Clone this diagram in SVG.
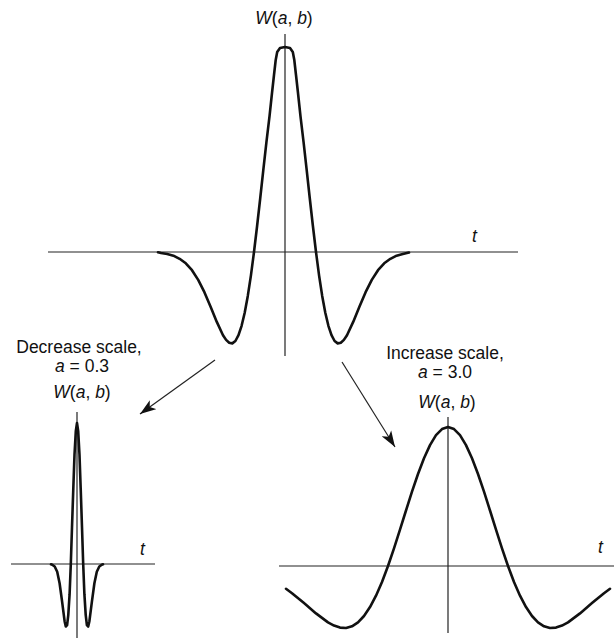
<svg xmlns="http://www.w3.org/2000/svg" width="616" height="638" viewBox="0 0 616 638">
<style>
.axis{stroke:#222;stroke-width:1.2;fill:none}
.curve{stroke:#111;stroke-width:2.6;fill:none;stroke-linejoin:round;stroke-linecap:round}
.conn{stroke:#222;stroke-width:1.2;fill:none}
text{font-family:"Liberation Sans",Arial,sans-serif;font-size:17.5px;fill:#111}
.it{font-style:italic}
</style>
<defs>
<marker id="ah" markerUnits="userSpaceOnUse" markerWidth="18" markerHeight="12" refX="16" refY="6" orient="auto">
<path d="M0,0.5 L16,6 L0,11.5 L4,6 Z" fill="#111"/>
</marker>
</defs>
<rect width="616" height="638" fill="#fff"/>
<g id="top-wavelet">
<line class="axis" x1="285" y1="34" x2="285" y2="356"/>
<line class="axis" x1="48" y1="252" x2="518" y2="252"/>
<path class="curve" d="M158,252.3 L161,253 L167.2,254 L173.4,255.7 L179.6,258.8 L185.8,263.3 L192,270.2 L198.2,279.9 L204.4,292.2 L210.6,306.7 L216.8,321.9 L223,335.2 L226.1,339.9 L229.2,342.8 L232.3,343.4 L235.4,341 L238.5,335.2 L241.6,325.8 L244.7,312.7 L247.8,295.9 L250.9,275.6 L254,252 L257.1,226 L260.2,198.5 L263.3,170.2 L266.4,142.3 L269.5,116.3 L272,93 L274,75 L275.7,60 L277.2,52 L280,48 L285,47 L290,48 L292.8,52 L294.3,60 L296,75 L298,93 L300.5,116.3 L303.6,142.3 L306.7,170.2 L309.8,198.5 L312.9,226 L316,252 L319.1,275.6 L322.2,295.9 L325.3,312.7 L328.4,325.8 L331.5,335.2 L334.6,341 L337.7,343.4 L340.8,342.8 L343.9,339.9 L347,335.2 L353.2,321.9 L359.4,306.7 L365.6,292.2 L371.8,279.9 L378,270.2 L384.2,263.3 L390.4,258.8 L396.6,255.7 L402.8,254 L409,252.5"/>
<text x="284" y="24" text-anchor="middle"><tspan class="it">W</tspan>(<tspan class="it">a</tspan>, <tspan class="it">b</tspan>)</text>
<text x="472" y="242" class="it">t</text>
</g>
<g id="decrease-wavelet">
<line class="axis" x1="77" y1="412" x2="77" y2="638"/>
<line class="axis" x1="11" y1="564" x2="155" y2="564"/>
<path class="curve" d="M51,564.3 L52.2,564.7 L54.7,566.5 L57.2,571.8 L59.6,583.2 L62.1,601.6 L64.6,621.2 L65.8,626.5 L67.1,625.2 L68.3,614.8 L69.6,594.2 L70.8,564 L72,527.2 L73.3,488.6 L74.5,454.7 L75.8,431.3 L77,423 L78.2,431.3 L79.5,454.7 L80.7,488.6 L82,527.2 L83.2,564 L84.4,594.2 L85.7,614.8 L86.9,625.2 L88.2,626.5 L89.4,621.2 L91.9,601.6 L94.4,583.2 L96.8,571.8 L99.3,566.5 L101.8,564.7 L103,564.3"/>
<text x="79" y="353" text-anchor="middle">Decrease scale,</text>
<text x="82" y="372" text-anchor="middle"><tspan class="it">a</tspan> = 0.3</text>
<text x="82" y="398" text-anchor="middle"><tspan class="it">W</tspan>(<tspan class="it">a</tspan>, <tspan class="it">b</tspan>)</text>
<text x="140" y="555" class="it">t</text>
</g>
<g id="increase-wavelet">
<line class="axis" x1="448" y1="417" x2="448" y2="633"/>
<line class="axis" x1="279" y1="566" x2="614" y2="566"/>
<path class="curve" d="M286,588.8 L292,593.2 L304,603.1 L316,613.4 L328,622.4 L334,625.6 L340,627.6 L346,628 L352,626.3 L358,622.4 L364,616 L370,607.1 L376,595.7 L382,582 L388,566 L394,548.3 L400,529.7 L406,510.5 L412,491.6 L418,474 L424,458.3 L430,445.1 L436,435.2 L442,429.1 L448,427 L454,429.1 L460,435.2 L466,445.1 L472,458.3 L478,474 L484,491.6 L490,510.5 L496,529.7 L502,548.3 L508,566 L514,582 L520,595.7 L526,607.1 L532,616 L538,622.4 L544,626.3 L550,628 L556,627.6 L562,625.6 L568,622.4 L580,613.4 L592,603.1 L604,593.2 L610,588.8"/>
<text x="445" y="359" text-anchor="middle">Increase scale,</text>
<text x="445" y="378" text-anchor="middle"><tspan class="it">a</tspan> = 3.0</text>
<text x="447" y="408" text-anchor="middle"><tspan class="it">W</tspan>(<tspan class="it">a</tspan>, <tspan class="it">b</tspan>)</text>
<text x="598" y="553" class="it">t</text>
</g>
<g id="connectors">
<line class="conn" x1="215" y1="360" x2="140" y2="414" marker-end="url(#ah)"/>
<line class="conn" x1="342" y1="362" x2="395" y2="447" marker-end="url(#ah)"/>
</g>
</svg>
